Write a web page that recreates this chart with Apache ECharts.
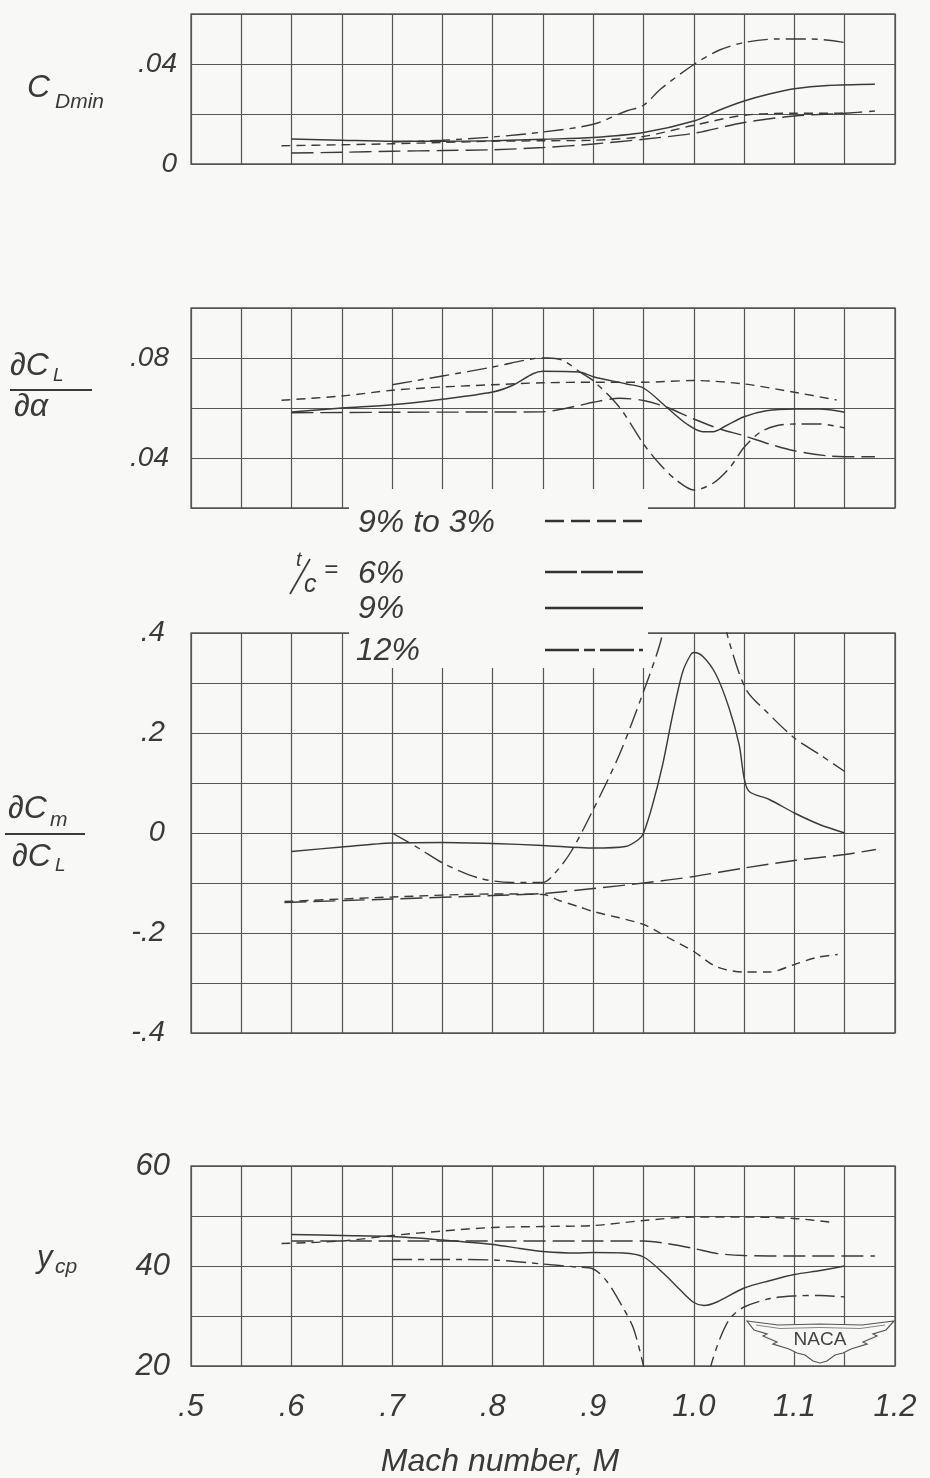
<!DOCTYPE html>
<html><head><meta charset="utf-8">
<script src="https://cdn.jsdelivr.net/npm/echarts@6/dist/echarts.min.js"></script>
<style>html,body{margin:0;padding:0;background:#f8f8f6;}#c{width:930px;height:1478px;}</style>
</head><body><div id="c"></div>
<script>
// ---------- DATA (Mach number, value) ----------
const xTickValues = [0.5, 0.6, 0.7, 0.8, 0.9, 1.0, 1.1, 1.2];
const xTickLabels = ['.5', '.6', '.7', '.8', '.9', '1.0', '1.1', '1.2'];

const cdTickValues = [0, 0.04];            const cdTickLabels = ['0', '.04'];
const clTickValues = [0.04, 0.08];         const clTickLabels = ['.04', '.08'];
const cmTickValues = [-0.4, -0.2, 0, 0.2, 0.4]; const cmTickLabels = ['-.4', '-.2', '0', '.2', '.4'];
const ycpTickValues = [20, 40, 60];        const ycpTickLabels = ['20', '40', '60'];

const legendNames = ['9% to 3%', '6%', '9%', '12%'];

// C_Dmin
const cd_9to3 = [[0.59,0.0073],[0.65,0.0077],[0.7,0.0081],[0.75,0.0086],[0.8,0.0091],[0.85,0.0093],[0.9,0.0095],[0.95,0.0110],[1.0,0.0155],[1.05,0.0195],[1.1,0.0203],[1.15,0.0203]];
const cd_6 = [[0.6,0.0044],[0.65,0.0047],[0.7,0.0051],[0.75,0.0054],[0.8,0.0057],[0.85,0.0066],[0.9,0.0080],[0.95,0.0099],[1.0,0.0123],[1.05,0.0166],[1.1,0.0192],[1.15,0.0203],[1.18,0.0212]];
const cd_9 = [[0.6,0.0100],[0.65,0.0095],[0.7,0.0091],[0.75,0.0091],[0.8,0.0093],[0.85,0.0099],[0.9,0.0106],[0.95,0.0126],[1.0,0.0172],[1.025,0.0215],[1.05,0.0252],[1.075,0.0280],[1.1,0.0301],[1.133,0.0314],[1.18,0.0319]];
const cd_12 = [[0.7,0.0088],[0.75,0.0095],[0.8,0.0108],[0.85,0.0128],[0.9,0.0159],[0.933,0.0212],[0.95,0.0235],[0.967,0.0300],[1.0,0.0398],[1.025,0.0455],[1.05,0.0486],[1.083,0.0500],[1.117,0.0500],[1.15,0.0486]];

// dCL/dalpha
const cl_9to3 = [[0.59,0.0631],[0.65,0.0648],[0.7,0.0671],[0.75,0.0684],[0.8,0.0693],[0.85,0.0701],[0.9,0.0703],[0.95,0.0703],[1.0,0.0710],[1.05,0.0696],[1.1,0.0663],[1.142,0.0632]];
const cl_6 = [[0.6,0.0581],[0.7,0.0583],[0.8,0.0584],[0.85,0.0585],[0.886,0.0610],[0.9,0.0623],[0.926,0.0639],[0.95,0.0630],[0.973,0.0603],[1.0,0.0556],[1.026,0.0516],[1.05,0.0489],[1.075,0.0456],[1.1,0.0429],[1.132,0.0409],[1.15,0.0405],[1.18,0.0405]];
const cl_9 = [[0.6,0.0584],[0.65,0.0600],[0.7,0.0613],[0.75,0.0635],[0.8,0.0664],[0.82,0.0691],[0.84,0.0737],[0.85,0.0747],[0.886,0.0744],[0.9,0.0725],[0.933,0.0696],[0.95,0.0680],[0.973,0.0603],[0.993,0.0536],[1.009,0.0505],[1.019,0.0505],[1.032,0.0529],[1.05,0.0565],[1.072,0.0589],[1.1,0.0596],[1.125,0.0596],[1.15,0.0583]];
const cl_12 = [[0.7,0.0693],[0.75,0.0728],[0.8,0.0764],[0.84,0.0797],[0.855,0.0800],[0.87,0.0790],[0.887,0.0743],[0.9,0.0709],[0.926,0.0603],[0.95,0.0456],[0.966,0.0376],[0.983,0.0310],[1.0,0.0272],[1.019,0.0299],[1.036,0.0363],[1.05,0.0443],[1.066,0.0503],[1.082,0.0529],[1.1,0.0536],[1.125,0.0536],[1.15,0.0520]];

// dCm/dCL
const cm_9to3 = [[0.593,-0.137],[0.7,-0.128],[0.8,-0.122],[0.85,-0.123],[0.866,-0.135],[0.885,-0.147],[0.9,-0.157],[0.95,-0.183],[0.975,-0.210],[1.0,-0.237],[1.022,-0.267],[1.05,-0.278],[1.075,-0.278],[1.1,-0.263],[1.122,-0.249],[1.143,-0.243]];
const cm_6 = [[0.593,-0.139],[0.7,-0.132],[0.8,-0.125],[0.85,-0.121],[0.9,-0.111],[0.95,-0.100],[1.0,-0.087],[1.05,-0.070],[1.1,-0.055],[1.15,-0.043],[1.181,-0.033]];
const cm_9 = [[0.6,-0.037],[0.65,-0.028],[0.7,-0.020],[0.75,-0.019],[0.8,-0.021],[0.85,-0.025],[0.9,-0.030],[0.932,-0.027],[0.945,-0.013],[0.95,0.0],[0.959,0.057],[0.969,0.137],[0.979,0.237],[0.989,0.323],[0.997,0.357],[1.0,0.361],[1.009,0.353],[1.022,0.317],[1.035,0.250],[1.045,0.177],[1.05,0.110],[1.055,0.083],[1.075,0.067],[1.1,0.040],[1.125,0.017],[1.15,0.0]];
const cm_12 = [[0.7,0.0],[0.726,-0.030],[0.753,-0.063],[0.786,-0.090],[0.819,-0.099],[0.85,-0.099],[0.862,-0.080],[0.878,-0.037],[0.9,0.047],[0.926,0.157],[0.95,0.283],[0.967,0.383],[0.972,0.44],[0.99,'-'],[1.03,0.43],[1.035,0.383],[1.052,0.287],[1.072,0.243],[1.1,0.190],[1.125,0.157],[1.15,0.123]];

// y_cp
const ycp_9to3 = [[0.59,44.5],[0.65,45.0],[0.7,46.1],[0.75,47.0],[0.8,47.7],[0.85,47.9],[0.9,48.1],[0.95,49.1],[1.0,49.8],[1.05,49.8],[1.1,49.5],[1.139,48.7]];
const ycp_6 = [[0.6,45.0],[0.7,45.0],[0.8,45.0],[0.9,45.0],[0.95,45.0],[0.973,44.5],[1.0,43.5],[1.023,42.5],[1.05,42.1],[1.1,42.0],[1.15,42.0],[1.18,42.0]];
const ycp_9 = [[0.6,46.3],[0.65,46.1],[0.7,45.9],[0.75,45.2],[0.8,44.3],[0.827,43.5],[0.85,42.9],[0.883,42.6],[0.9,42.7],[0.93,42.6],[0.95,41.8],[0.97,38.5],[0.987,35.1],[1.0,32.7],[1.01,32.1],[1.023,32.8],[1.05,35.6],[1.076,37.1],[1.1,38.3],[1.126,39.1],[1.15,40.0]];
const ycp_12 = [[0.7,41.3],[0.75,41.3],[0.8,41.2],[0.85,40.4],[0.883,39.8],[0.9,39.4],[0.914,36.8],[0.93,31.5],[0.94,27.5],[0.95,20.0],[0.952,18.0],[0.985,'-'],[1.015,18.0],[1.017,20.1],[1.026,25.5],[1.036,29.5],[1.05,31.8],[1.076,33.5],[1.1,34.0],[1.126,34.1],[1.15,33.8]];

// ---------- STYLE ----------
const BG = '#f8f8f6', INK = '#3a3a3a', GRIDC = '#555555';
const FONT = '"Liberation Sans", Arial, sans-serif';
const dash93 = [9, 6], dash6 = [22, 7], dash12 = [20, 6, 6, 6];
const lineTypes = [dash93, dash6, 'solid', dash12];

function lookup(vals, labels) {
  return function (v) {
    for (let i = 0; i < vals.length; i++) if (Math.abs(vals[i] - v) < 1e-7) return labels[i];
    return '';
  };
}

const grids = [
  { left: 191, right: 35, top: 14, height: 150 },
  { left: 191, right: 35, top: 308, height: 200 },
  { left: 191, right: 35, top: 633, height: 400 },
  { left: 191, right: 35, top: 1166, height: 200 }
].map(g => Object.assign(g, { show: true, borderColor: GRIDC, borderWidth: 1.3, backgroundColor: 'transparent' }));

const xAxes = [0, 1, 2, 3].map(i => ({
  type: 'value', gridIndex: i, min: 0.5, max: 1.2, interval: 0.05,
  axisLine: { show: false }, axisTick: { show: false },
  splitLine: { show: true, lineStyle: { color: GRIDC, width: 1.2 } },
  axisLabel: { show: i === 3, formatter: lookup(xTickValues, xTickLabels), fontSize: 31, fontStyle: 'italic',
    color: INK, margin: 26, fontFamily: FONT }
}));

const yDefs = [
  { min: 0, max: 0.06, interval: 0.02, v: cdTickValues, l: cdTickLabels, m: 14, fs: 28 },
  { min: 0.02, max: 0.10, interval: 0.02, v: clTickValues, l: clTickLabels, m: 22, fs: 28 },
  { min: -0.4, max: 0.4, interval: 0.1, v: cmTickValues, l: cmTickLabels, m: 26, fs: 29 },
  { min: 20, max: 60, interval: 10, v: ycpTickValues, l: ycpTickLabels, m: 21, fs: 31 }
];
const yAxes = yDefs.map((d, i) => ({
  type: 'value', gridIndex: i, min: d.min, max: d.max, interval: d.interval,
  axisLine: { show: false }, axisTick: { show: false },
  splitLine: { show: true, lineStyle: { color: GRIDC, width: 1.2 } },
  axisLabel: { formatter: lookup(d.v, d.l), fontSize: d.fs, fontStyle: 'italic', color: INK, margin: d.m, fontFamily: FONT }
}));

const panelData = [
  [cd_9to3, cd_6, cd_9, cd_12],
  [cl_9to3, cl_6, cl_9, cl_12],
  [cm_9to3, cm_6, cm_9, cm_12],
  [ycp_9to3, ycp_6, ycp_9, ycp_12]
];
const series = [];
panelData.forEach((arr, p) => {
  arr.forEach((data, k) => {
    series.push({
      type: 'line', name: legendNames[k], xAxisIndex: p, yAxisIndex: p, data: data,
      showSymbol: false, symbol: 'none', smooth: 0.3, clip: true, connectNulls: false,
      lineStyle: { color: INK, width: 1.4, type: lineTypes[k] }, z: 3, silent: true
    });
  });
});

// ---------- GRAPHIC (titles, legend, logo) ----------
function txt(text, x, y, size, extra) {
  return Object.assign({ type: 'text', x: x, y: y, z: 100, silent: true,
    style: Object.assign({ text: text, font: 'italic ' + size + 'px ' + FONT, fill: INK, align: 'left', verticalAlign: 'middle' }, extra || {}) });
}
function ln(x1, y1, x2, y2, w, dash, color) {
  return { type: 'line', z: 100, silent: true, shape: { x1, y1, x2, y2 },
    style: { stroke: color || INK, lineWidth: w, lineDash: dash || null } };
}

const graphic = [
  // legend white box cutting the grid
  { type: 'rect', z: 50, silent: true, shape: { x: 349, y: 489, width: 299, height: 179 }, style: { fill: BG } },
  // legend texts
  txt(legendNames[0], 358, 523, 32),
  txt(legendNames[1], 358, 574, 32),
  txt(legendNames[2], 358, 609, 32),
  txt(legendNames[3], 356, 651, 32),
  txt('t', 296, 560, 20),
  txt('c', 304, 585, 25),
  ln(290, 594, 310, 559, 1.7),
  txt('=', 324, 570, 24),
  // legend samples
  ln(545, 521, 643, 521, 2.6, [19, 7], '#333'),
  ln(545, 572, 643, 572, 2.6, [32, 4], '#333'),
  ln(545, 608, 643, 608, 2.6, null, '#333'),
  ln(545, 650, 643, 650, 2.6, [34, 5, 11, 5], '#333'),
  // y-axis titles
  txt('C', 27, 88, 32),
  txt('Dmin', 55, 102, 21),
  txt('∂C', 10, 366, 32),
  txt('L', 53, 376, 19),
  ln(10, 390, 92, 390, 1.8),
  txt('∂α', 14, 407, 32),
  txt('∂C', 8, 809, 32),
  txt('m', 50, 820, 21),
  ln(5, 834, 85, 834, 1.8),
  txt('∂C', 12, 857, 32),
  txt('L', 55, 866, 19),
  txt('y', 37, 1258, 31),
  txt('cp', 55, 1267, 21),
  // x-axis title
  txt('Mach number, M', 500, 1462, 32, { align: 'center' }),
  // NACA logo
  { type: 'polygon', z: 60, silent: true,
    shape: { points: [[747,1321],[778,1325],[820,1324],[862,1325],[894,1321],[886,1330],[873,1334],[877,1336],[863,1342],[867,1344],[851,1349],[843,1353],[835,1355],[827,1361],[820,1363],[813,1361],[805,1355],[797,1353],[789,1349],[773,1344],[777,1342],[763,1336],[767,1334],[754,1330]] },
    style: { fill: BG, stroke: '#555', lineWidth: 1.2 } },
  { type: 'polyline', z: 61, silent: true,
    shape: { points: [[756,1325],[780,1328.5],[820,1327.5],[860,1328.5],[885,1325]] },
    style: { fill: null, stroke: '#777', lineWidth: 0.9 } },
  { type: 'text', x: 820, y: 1340, z: 62, silent: true,
    style: { text: 'NACA', font: '19px ' + FONT, fill: '#444', align: 'center', verticalAlign: 'middle' } }
];

const chart = echarts.init(document.getElementById('c'), null, { renderer: 'canvas' });
chart.setOption({
  backgroundColor: BG,
  animation: false,
  grid: grids,
  xAxis: xAxes,
  yAxis: yAxes,
  series: series,
  graphic: graphic
});
</script></body></html>
